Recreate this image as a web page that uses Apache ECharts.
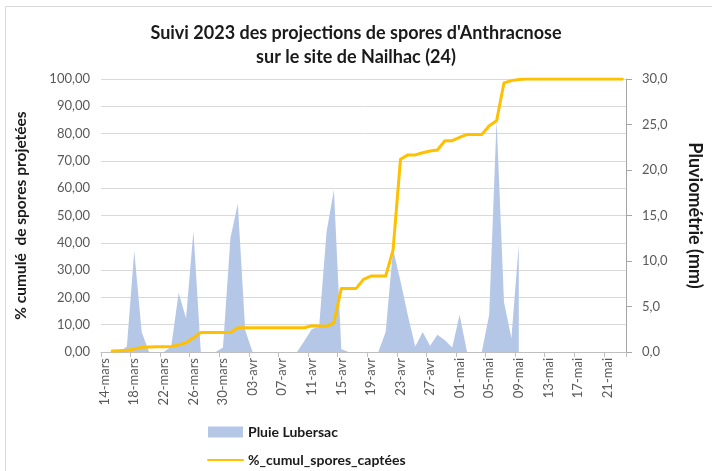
<!DOCTYPE html>
<html>
<head>
<meta charset="utf-8">
<script src="https://cdn.jsdelivr.net/npm/echarts@6/dist/echarts.min.js"></script>
<style>
  html, body { margin: 0; padding: 0; background: #fff; }
  #chart { width: 712px; height: 471px; }
</style>
</head>
<body>
<div id="chart"></div>
<script>
// Daily categories, 14 March to 23 May 2023
const dates = [
  '14-mars','15-mars','16-mars','17-mars','18-mars','19-mars','20-mars','21-mars','22-mars','23-mars',
  '24-mars','25-mars','26-mars','27-mars','28-mars','29-mars','30-mars','31-mars',
  '01-avr','02-avr','03-avr','04-avr','05-avr','06-avr','07-avr','08-avr','09-avr','10-avr',
  '11-avr','12-avr','13-avr','14-avr','15-avr','16-avr','17-avr','18-avr','19-avr','20-avr',
  '21-avr','22-avr','23-avr','24-avr','25-avr','26-avr','27-avr','28-avr','29-avr','30-avr',
  '01-mai','02-mai','03-mai','04-mai','05-mai','06-mai','07-mai','08-mai','09-mai','10-mai',
  '11-mai','12-mai','13-mai','14-mai','15-mai','16-mai','17-mai','18-mai','19-mai','20-mai',
  '21-mai','22-mai','23-mai'
];

// Daily rainfall at Lubersac (mm)
const pluie = [
  0, 0, 0, 0.6, 11.1, 2.2, 0, 0, 0, 0.6,
  6.5, 3.7, 13.3, 0, 0, 0, 0.5, 12.5, 16.3, 2.4,
  0, 0, 0, 0, 0, 0, 0, 1.2, 2.5, 2.8,
  13.2, 17.8, 0.3, 0, 0, 0, 0, 0, 2.2, 11.3,
  7.8, 4.0, 0.6, 2.2, 0.7, 1.9, 1.3, 0.5, 4.1, 0,
  0, 0, 4.1, 25.5, 5.5, 1.5, 11.8,
  null, null, null, null, null, null, null, null, null, null, null, null, null, null
];

// Cumulative share of spores caught (%)
const cumulSpores = [
  null, 0.4, 0.5, 0.6, 1.1, 1.7, 1.8, 1.9, 1.95, 2.0,
  2.6, 3.4, 5.2, 7.1, 7.1, 7.1, 7.1, 7.1, 8.9, 8.9,
  8.9, 8.9, 8.9, 8.9, 8.9, 8.9, 8.9, 8.9, 9.6, 9.5,
  9.4, 10.7, 23.3, 23.3, 23.3, 26.6, 27.8, 27.8, 27.8, 37.4,
  70.6, 72.2, 72.2, 73.0, 73.6, 74.0, 77.4, 77.4, 78.6, 79.7,
  79.7, 79.7, 82.9, 84.7, 98.6, 99.4, 99.8, 100, 100, 100,
  100, 100, 100, 100, 100, 100, 100, 100, 100, 100, 100
];

const FONT = 'Lato, "Open Sans", sans-serif';
const frDec = (v, d) => v.toFixed(d).replace('.', ',');

const chart = echarts.init(document.getElementById('chart'), null, { renderer: 'canvas' });

chart.setOption({
  backgroundColor: '#ffffff',
  animation: false,
  textStyle: { fontFamily: FONT },
  graphic: [{
    type: 'rect',
    silent: true,
    shape: { x: 5.5, y: 6.5, width: 800, height: 600 },
    style: { fill: 'none', stroke: '#d9d9d9', lineWidth: 1 }
  }],
  title: {
    text: "Suivi 2023 des projections de spores d'Anthracnose\nsur le site de Nailhac (24)",
    left: 'center',
    top: 16,
    textStyle: {
      fontFamily: FONT, fontSize: 18, fontWeight: 'bold', color: '#1a1a1a', lineHeight: 24
    }
  },
  legend: {
    orient: 'vertical',
    left: 207,
    top: 425,
    height: 60,
    padding: 0,
    itemWidth: 35,
    itemHeight: 11,
    itemGap: 14,
    textStyle: { fontFamily: FONT, fontSize: 14, fontWeight: 'bold', color: '#1a1a1a' },
    data: [
      { name: 'Pluie Lubersac', icon: 'rect' },
      { name: '%_cumul_spores_captées', itemStyle: { opacity: 0 } }
    ]
  },
  grid: { left: 101, right: 78.5, top: 79, bottom: 119, containLabel: false },
  xAxis: {
    type: 'category',
    data: dates,
    boundaryGap: true,
    axisLine: { show: true, lineStyle: { color: '#bfbfbf', width: 1 } },
    axisTick: { show: true, interval: 3, length: 5, lineStyle: { color: '#bfbfbf' } },
    axisLabel: {
      interval: 3, rotate: 90, margin: 6, hideOverlap: false,
      align: 'right', verticalAlign: 'middle',
      fontFamily: FONT, fontSize: 13, color: '#595959'
    },
    splitLine: { show: false }
  },
  yAxis: [
    {
      type: 'value',
      min: 0, max: 100, interval: 10,
      position: 'left',
      name: '% cumulé  de spores projetées',
      nameLocation: 'middle',
      nameRotate: 90,
      nameGap: 72,
      nameTextStyle: { fontFamily: FONT, fontSize: 15.5, fontWeight: 'bold', color: '#1a1a1a' },
      axisLine: { show: false },
      axisTick: { show: false },
      axisLabel: {
        margin: 11, fontFamily: FONT, fontSize: 13, color: '#595959',
        formatter: v => frDec(v, 2)
      },
      splitLine: { show: true, lineStyle: { color: '#d9d9d9', width: 1 } }
    },
    {
      type: 'value',
      min: 0, max: 30, interval: 5,
      position: 'right',
      name: 'Pluviométrie (mm)',
      nameLocation: 'middle',
      nameRotate: -90,
      nameGap: 60,
      nameTextStyle: { fontFamily: FONT, fontSize: 18, fontWeight: 'bold', color: '#1a1a1a' },
      axisLine: { show: true, lineStyle: { color: '#a6a6a6', width: 1 } },
      axisTick: { show: true, length: 6, inside: false, lineStyle: { color: '#a6a6a6' } },
      axisLabel: {
        margin: 16, fontFamily: FONT, fontSize: 13, color: '#595959',
        formatter: v => frDec(v, 1)
      },
      splitLine: { show: false }
    }
  ],
  series: [
    {
      name: 'Pluie Lubersac',
      type: 'line',
      yAxisIndex: 1,
      data: pluie,
      symbol: 'none',
      showSymbol: false,
      lineStyle: { width: 0, color: '#b4c7e7' },
      itemStyle: { color: '#b4c7e7' },
      areaStyle: { color: '#b4c7e7', opacity: 1 },
      z: 1
    },
    {
      name: '%_cumul_spores_captées',
      type: 'line',
      yAxisIndex: 0,
      data: cumulSpores,
      symbol: 'none',
      showSymbol: false,
      lineStyle: { width: 3, color: '#ffc000', join: 'round', cap: 'round' },
      itemStyle: { color: '#ffc000' },
      z: 3
    }
  ]
});
</script>
</body>
</html>
